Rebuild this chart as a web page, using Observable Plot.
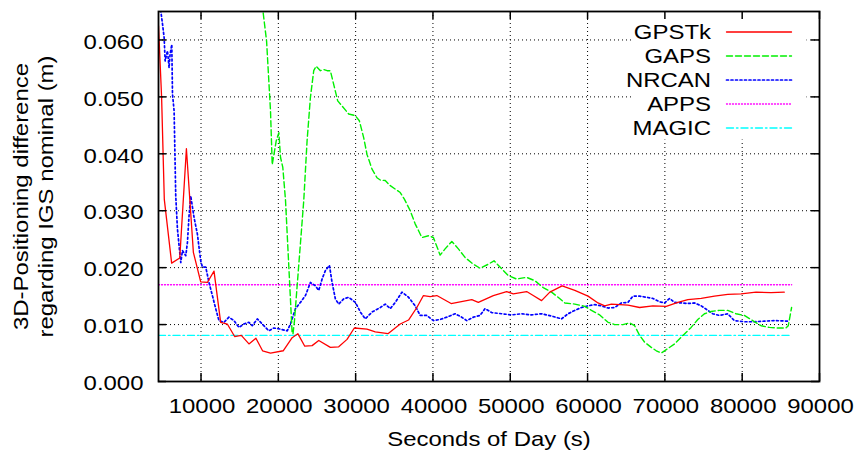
<!DOCTYPE html>
<html><head><meta charset="utf-8">
<script src="https://cdn.jsdelivr.net/npm/d3@7"></script>
<script src="https://cdn.jsdelivr.net/npm/@observablehq/plot@0.6"></script>
<style>
html,body{margin:0;padding:0;background:#fff;}
#chart{width:858px;height:454px;}
</style>
</head><body><div id="chart"></div>
<script>
// ---- data ----
const seriesNames = ["GPSTk", "GAPS", "NRCAN", "APPS", "MAGIC"];
const xTicks = [10000, 20000, 30000, 40000, 50000, 60000, 70000, 80000, 90000];
const yTicks = [0, 0.01, 0.02, 0.03, 0.04, 0.05, 0.06];
const xTitle = "Seconds of Day (s)";
const yTitle = ["3D-Positioning difference", "regarding IGS nominal (m)"];

const gpstkX = [4500, 4900, 5250, 6200, 7250, 8110, 9010, 9960, 10820, 11680, 12540, 13400, 14350, 15210, 16200, 17100, 17960, 18990, 20630, 21790, 22520, 23420, 24370, 25230, 26730, 27810, 28890, 29830, 31470, 32540, 34180, 35770, 36840, 37920, 38770, 39640, 40500, 42350, 45020, 45870, 47810, 49530, 50390, 52120, 52970, 54050, 55120, 56710, 58350, 60060, 61350, 62220, 63080, 65230, 66730, 68450, 70180, 71680, 72970, 74700, 76410, 78130, 79850, 81790, 83720, 85440];
const gpstkY = [0.0625, 0.050, 0.032, 0.0208, 0.0217, 0.0409, 0.0227, 0.0175, 0.0174, 0.0194, 0.0104, 0.0101, 0.0079, 0.0081, 0.0066, 0.0076, 0.0054, 0.0050, 0.0054, 0.0077, 0.0084, 0.0062, 0.0063, 0.0072, 0.0060, 0.0061, 0.0074, 0.0094, 0.0092, 0.0087, 0.0084, 0.0101, 0.0108, 0.0130, 0.0151, 0.0149, 0.0151, 0.0137, 0.0144, 0.0139, 0.0151, 0.0158, 0.0154, 0.0158, 0.0151, 0.0142, 0.0157, 0.0168, 0.0160, 0.0150, 0.0138, 0.0133, 0.0136, 0.0134, 0.0130, 0.0133, 0.0132, 0.0139, 0.0144, 0.0146, 0.0150, 0.0153, 0.0154, 0.0157, 0.0156, 0.0157];

const gapsX = [17900, 18010, 18480, 18990, 19210, 19510, 19730, 20070, 20280, 20580, 20930, 21790, 21900, 22090, 22650, 23290, 23720, 24150, 24580, 24890, 25440, 25870, 26310, 26730, 27160, 27680, 28240, 29100, 29960, 30480, 31030, 31470, 32120, 32760, 33190, 33830, 34480, 35130, 35770, 36320, 37060, 37700, 38570, 39420, 40060, 40930, 41570, 42440, 43290, 44150, 45230, 46090, 47160, 47900, 48670, 49740, 50820, 52110, 53190, 54260, 55340, 56190, 57060, 58350, 59640, 60500, 61570, 62650, 63510, 64580, 65440, 66090, 66730, 67380, 68240, 68890, 69530, 70180, 71250, 72330, 73400, 74260, 75120, 75990, 77060, 78130, 79210, 80280, 81360, 82440, 83510, 84580, 85660, 85960, 86390];
const gapsY = [0.0663, 0.0651, 0.0598, 0.0475, 0.0381, 0.0405, 0.0423, 0.0437, 0.0394, 0.0376, 0.0318, 0.0084, 0.0084, 0.0107, 0.0206, 0.0318, 0.0423, 0.0499, 0.0546, 0.0554, 0.0546, 0.0548, 0.0546, 0.0546, 0.0522, 0.0493, 0.0484, 0.0470, 0.0467, 0.0458, 0.0429, 0.0399, 0.0373, 0.0358, 0.0354, 0.0353, 0.0344, 0.0338, 0.0332, 0.0320, 0.0300, 0.0277, 0.0253, 0.0256, 0.0253, 0.0222, 0.0233, 0.0246, 0.0233, 0.0218, 0.0206, 0.0199, 0.0206, 0.0212, 0.0201, 0.0186, 0.0180, 0.0183, 0.0177, 0.0165, 0.0157, 0.0148, 0.0138, 0.0136, 0.0132, 0.0125, 0.0117, 0.0104, 0.0100, 0.0100, 0.0103, 0.0098, 0.0081, 0.0069, 0.0060, 0.0054, 0.0050, 0.0056, 0.0066, 0.0081, 0.0095, 0.0109, 0.0119, 0.0123, 0.0125, 0.0125, 0.0119, 0.0116, 0.0107, 0.0098, 0.0095, 0.0094, 0.0094, 0.0098, 0.0130];

const nrcanX = [4500, 4800, 5020, 5230, 5360, 5660, 5870, 6000, 6220, 6310, 6520, 6730, 6950, 7160, 7380, 7600, 8030, 8240, 8450, 8670, 9100, 9530, 9960, 10180, 10610, 11030, 11470, 11900, 12320, 12970, 13610, 14260, 14900, 15550, 16190, 16630, 17280, 17920, 18770, 19420, 20280, 21150, 21570, 22220, 22860, 23510, 24150, 24800, 25230, 25660, 26090, 26610, 26950, 27380, 27810, 28450, 29100, 29960, 30610, 31250, 32120, 33190, 33830, 34480, 35130, 35990, 36840, 37700, 38350, 39210, 40060, 40930, 41790, 42860, 43720, 44370, 45230, 46090, 46740, 47600, 48890, 50180, 51470, 52760, 54050, 55340, 56630, 57480, 58350, 59210, 60070, 60930, 61790, 62650, 63510, 64370, 65230, 65870, 66730, 67600, 68450, 69310, 69960, 70610, 71250, 72120, 72970, 73830, 74700, 75550, 76190, 77060, 78130, 78990, 80280, 81570, 82860, 84150, 85870];
const nrcanY = [0.0668, 0.0650, 0.0628, 0.0604, 0.0563, 0.0581, 0.0551, 0.0575, 0.0592, 0.0505, 0.0475, 0.0326, 0.0268, 0.0239, 0.0209, 0.0230, 0.0221, 0.0244, 0.0291, 0.0326, 0.0288, 0.0259, 0.0212, 0.0201, 0.0201, 0.0174, 0.0151, 0.0128, 0.0107, 0.0104, 0.0113, 0.0107, 0.0095, 0.0101, 0.0104, 0.0098, 0.0110, 0.0101, 0.0089, 0.0094, 0.0092, 0.0089, 0.0101, 0.0128, 0.0139, 0.0151, 0.0174, 0.0168, 0.0160, 0.0180, 0.0195, 0.0204, 0.0174, 0.0145, 0.0136, 0.0145, 0.0148, 0.0139, 0.0122, 0.0110, 0.0122, 0.0130, 0.0136, 0.0128, 0.0139, 0.0157, 0.0148, 0.0133, 0.0116, 0.0116, 0.0107, 0.0109, 0.0113, 0.0119, 0.0113, 0.0107, 0.0113, 0.0116, 0.0128, 0.0121, 0.0119, 0.0117, 0.0119, 0.0117, 0.0119, 0.0115, 0.0110, 0.0119, 0.0125, 0.0130, 0.0133, 0.0135, 0.0133, 0.0129, 0.0130, 0.0138, 0.0139, 0.0150, 0.0150, 0.0148, 0.0146, 0.0140, 0.0138, 0.0146, 0.0139, 0.0138, 0.0137, 0.0138, 0.0133, 0.0125, 0.0119, 0.0116, 0.0119, 0.0107, 0.0105, 0.0105, 0.0106, 0.0107, 0.0106];

const appsX = [4500, 86400];
const appsY = [0.0170, 0.0170];
const magicX = [4500, 86400];
const magicY = [0.0081, 0.0081];

// ---- layout / styles ----
const W = 858, H = 454, mL = 158, mR = 39, mT = 11, mB = 73;
const innerW = W - mL - mR, innerH = H - mT - mB;
const styles = {
  GPSTk: {stroke: "#ff0000", dash: "none", width: 1.3},
  GAPS:  {stroke: "#00f000", dash: "6,3", width: 1.4},
  NRCAN: {stroke: "#0000ff", dash: "2,2.5", width: 1.7},
  APPS:  {stroke: "#ff00ff", dash: "1,2", width: 1.3},
  MAGIC: {stroke: "#00ffff", dash: "7,3,1.5,3", width: 1.4}
};
const seriesData = {
  GPSTk: [gpstkX, gpstkY], GAPS: [gapsX, gapsY], NRCAN: [nrcanX, nrcanY],
  APPS: [appsX, appsY], MAGIC: [magicX, magicY]
};
const rowsOf = name => seriesData[name][0].map((x, i) => ({series: name, x, y: seriesData[name][1][i]}));

const gridStyle = {stroke: "#000", strokeOpacity: 1, strokeWidth: 1, strokeDasharray: "1,3"};
const lineShape = {draw(ctx, l) { ctx.moveTo(0, 0); ctx.lineTo(0, -l); }};
const keyBox = {draw(ctx) { ctx.rect(-174, 0, 174, 128); }};

const marks = [
  Plot.gridY(yTicks.filter(d => d > 0), gridStyle),
  Plot.gridX(xTicks.filter(d => d < 90000), gridStyle),
  Plot.vector([0], {frameAnchor: "top-right", dx: -13, length: 1, anchor: "start", rotate: 0, fill: "white", stroke: "none", shape: keyBox}),
  ...["MAGIC", "APPS", "NRCAN", "GAPS", "GPSTk"].map(name => Plot.line(rowsOf(name), {
    x: "x", y: "y", stroke: styles[name].stroke, strokeWidth: styles[name].width,
    strokeDasharray: styles[name].dash, clip: true
  })),
  // inward ticks on all sides
  Plot.tickX(xTicks, {x: d => d, insetBottom: innerH - 8, stroke: "#000", strokeWidth: 1.5}),
  Plot.tickX(xTicks, {x: d => d, insetTop: innerH - 8, stroke: "#000", strokeWidth: 1.5}),
  Plot.tickY(yTicks, {y: d => d, insetRight: innerW - 8, stroke: "#000", strokeWidth: 1.5}),
  Plot.tickY(yTicks, {y: d => d, insetLeft: innerW - 8, stroke: "#000", strokeWidth: 1.5}),
  Plot.frame({stroke: "#000", strokeWidth: 1.8}),
  Plot.axisY({ticks: yTicks, tickSize: 0, tickPadding: 15, tickFormat: d3.format(".3f"), label: null, dy: 2}),
  Plot.axisX({ticks: xTicks, tickSize: 0, tickPadding: 17, tickFormat: d3.format("d"), label: null, dx: 1}),
  Plot.text([xTitle], {text: d => d, frameAnchor: "bottom", textAnchor: "middle", dy: 57.5, lineAnchor: "middle"}),
  Plot.text([yTitle[0]], {text: d => d, frameAnchor: "left", textAnchor: "middle", rotate: -90, dx: -137, lineAnchor: "middle"}),
  Plot.text([yTitle[1]], {text: d => d, frameAnchor: "left", textAnchor: "middle", rotate: -90, dx: -112, lineAnchor: "middle"}),
  ...seriesNames.map((name, i) => Plot.text([name], {text: d => d, frameAnchor: "top-right", textAnchor: "end", dx: -108.5, dy: 21 + 24 * i, lineAnchor: "middle"})),
  ...seriesNames.map((name, i) => Plot.vector([name], {frameAnchor: "top-right", dx: -93, dy: 20.5 + 24 * i, length: 65, rotate: 90, anchor: "start", shape: lineShape, stroke: styles[name].stroke, strokeWidth: styles[name].width, strokeDasharray: styles[name].dash}))
];

const chart = Plot.plot({
  width: W, height: H,
  marginLeft: mL, marginRight: mR, marginTop: mT, marginBottom: mB,
  x: {domain: [4500, 90000]},
  y: {domain: [0, 0.065]},
  style: {fontFamily: "'Liberation Sans', Arial, sans-serif", fontSize: "21px", background: "#fff", color: "#000"},
  marks
});
document.getElementById("chart").appendChild(chart);

// widen glyphs like the reference's stretched Helvetica
chart.querySelectorAll("text").forEach(t => {
  const tspans = t.querySelectorAll("tspan");
  const targets = tspans.length ? Array.from(tspans) : [t];
  targets.forEach(el => {
    const L = el.getComputedTextLength();
    if (L > 0) {
      el.setAttribute("textLength", (L * 1.14).toFixed(2));
      el.setAttribute("lengthAdjust", "spacingAndGlyphs");
    }
  });
});
</script>
</body></html>
